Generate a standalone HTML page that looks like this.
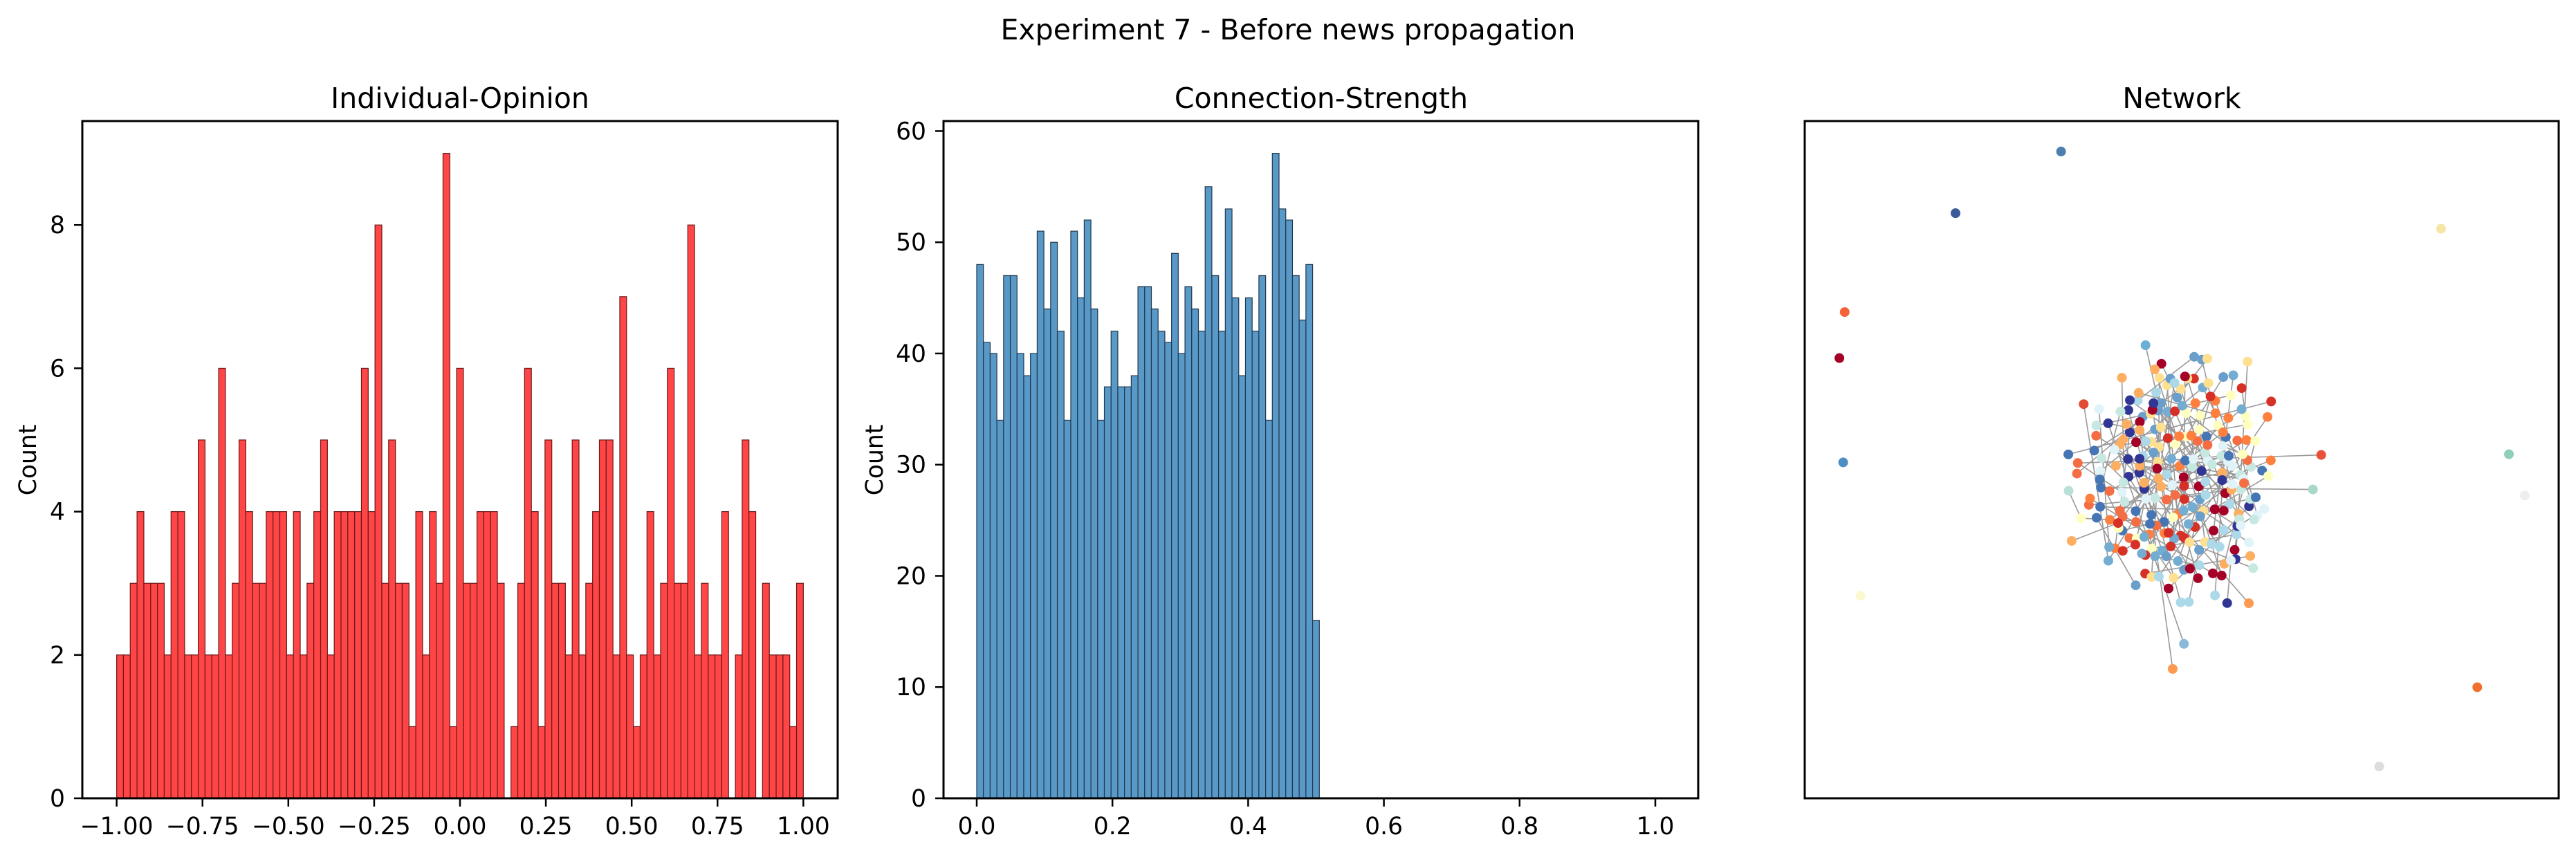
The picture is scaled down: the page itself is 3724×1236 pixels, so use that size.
<!DOCTYPE html>
<html><head><meta charset="utf-8">
<style>
html,body{margin:0;padding:0;background:#fff;}
svg{display:block;font-family:"DejaVu Sans","Liberation Sans",sans-serif;}
</style></head>
<body>
<svg id="fig" xmlns="http://www.w3.org/2000/svg" width="3724" height="1236" viewBox="0 0 3724 1236">
<rect width="3724" height="1236" fill="#fff"/>
<text x="1862" y="57" font-size="41" text-anchor="middle">Experiment 7 - Before news propagation</text>
<text x="665" y="156" font-size="41" text-anchor="middle">Individual-Opinion</text>
<text x="1910" y="156" font-size="41" text-anchor="middle">Connection-Strength</text>
<text x="3154" y="156" font-size="41" text-anchor="middle">Network</text>
<g id="g1"></g>
<g id="g2"></g>
<g id="g3"></g>
</svg>
<script>
// ---- data ----
const opinionCounts = [2,2,3,4,3,3,3,2,4,4,2,2,5,2,2,6,2,3,5,4,3,3,4,4,4,2,4,2,3,4,5,2,4,4,4,4,6,4,8,3,5,3,3,1,4,2,4,3,9,1,
6,3,3,4,4,4,3,0,1,3,6,4,1,5,3,3,2,5,2,3,4,5,5,2,7,2,1,2,4,2,3,6,3,3,8,2,3,2,2,4,0,2,5,4,0,3,2,2,2,1,3];
const opinionXTicks = [-1,-0.75,-0.5,-0.25,0,0.25,0.5,0.75,1];
const opinionXLabels = ["\u22121.00","\u22120.75","\u22120.50","\u22120.25","0.00","0.25","0.50","0.75","1.00"];
const opinionYTicks = [0,2,4,6,8];
const strengthCounts = [48,41,40,34,47,47,40,38,40,51,44,50,42,34,51,45,52,44,34,37,42,37,37,38,46,46,44,42,41,49,40,46,44,42,55,47,42,53,45,38,45,42,47,34,58,53,52,47,43,48,16];
const strengthBinWidth = 0.0099;
const strengthXTicks = [0,0.2,0.4,0.6,0.8,1.0];
const strengthXLabels = ["0.0","0.2","0.4","0.6","0.8","1.0"];
const strengthYTicks = [0,10,20,30,40,50,60];
// network outlier nodes in layout units (0..1 within axes)
const outlierX = [0.340,0.200,0.844,0.053,0.046,0.051,0.074,0.934,0.955,0.892,0.762,0.488,0.503,0.589,0.685,0.674,0.350,0.354,0.370,0.452];
const outlierY = [0.045,0.136,0.159,0.282,0.350,0.504,0.701,0.492,0.553,0.836,0.953,0.809,0.772,0.712,0.493,0.544,0.546,0.620,0.418,0.331];
const outlierColors = ["#4a7fb0","#3a5a9a","#f5e6a8","#f4623a","#a50026","#4f8ec3","#fbf8d0","#8fcfb8","#eeeeee","#f07030","#dddddd","#fd9a50","#8ab8d8","#fd9a50","#e8503a","#a8d8c8","#b8e0d8","#fdae61","#e34a33","#6baed6"];
const palette = ["#a50026","#d73027","#f46d43","#fdae61","#fee090","#ffffbf","#e0f3f8","#abd9e9","#74add1","#4575b4","#313695","#6a9fcb","#ff7f3f","#c6e8e0"];

const NS="http://www.w3.org/2000/svg";
function el(tag, attrs, parent){const e=document.createElementNS(NS,tag);for(const k in attrs)e.setAttribute(k,attrs[k]);parent.appendChild(e);return e;}

function axesFrame(g,L,T,R,B,name){
  const f=el('rect',{x:L,y:T,width:R-L,height:B-T,fill:'none',stroke:'#000','stroke-width':3},g);
  
  
}

// ---- histogram 1 ----
(function(){
  const g=document.getElementById('g1');
  const L=119,R=1211,T=175,B=1154;
  const x=v=>L+(v+1.1)/2.2*(R-L);
  const ymax=9*1.05;
  const y=v=>B-v/ymax*(B-T);
  const n=opinionCounts.length, w=2/n;
  opinionCounts.forEach((c,i)=>{
    if(c<=0) return;
    const r=el('rect',{x:x(-1+i*w),y:y(c),width:x(-1+(i+1)*w)-x(-1+i*w),height:B-y(c),fill:'#ff4545',stroke:'#6a1a1a','stroke-width':1.2},g);
    
    
  });
  opinionXTicks.forEach((t,i)=>{
    el('line',{x1:x(t),x2:x(t),y1:B,y2:B+12,stroke:'#000','stroke-width':2.5},g);
    const tx=el('text',{x:x(t),y:B+52,'font-size':34.5,'text-anchor':'middle'},g);
    tx.textContent=opinionXLabels[i];
    
    
  });
  opinionYTicks.forEach(t=>{
    el('line',{x1:L-12,x2:L,y1:y(t),y2:y(t),stroke:'#000','stroke-width':2.5},g);
    const tx=el('text',{x:L-25,y:y(t)+12,'font-size':34.5,'text-anchor':'end'},g);
    tx.textContent=String(t);
    
    
  });
  const yl=el('text',{x:0,y:0,'font-size':34.5,'text-anchor':'middle',transform:'translate(52,665) rotate(-90)'},g);
  yl.textContent='Count';
  
  
  axesFrame(g,L,T,R,B,'opinion-axes');
})();

// ---- histogram 2 ----
(function(){
  const g=document.getElementById('g2');
  const L=1364,R=2455,T=175,B=1154;
  const x0=1412, pu=981;
  const x=v=>x0+v*pu;
  const ymax=58*1.05;
  const y=v=>B-v/ymax*(B-T);
  strengthCounts.forEach((c,i)=>{
    const r=el('rect',{x:x(i*strengthBinWidth),y:y(c),width:strengthBinWidth*pu,height:B-y(c),fill:'#5899c8',stroke:'#22384c','stroke-width':1.2},g);
    
    
  });
  strengthXTicks.forEach((t,i)=>{
    el('line',{x1:x(t),x2:x(t),y1:B,y2:B+12,stroke:'#000','stroke-width':2.5},g);
    const tx=el('text',{x:x(t),y:B+52,'font-size':34.5,'text-anchor':'middle'},g);
    tx.textContent=strengthXLabels[i];
    
    
  });
  strengthYTicks.forEach(t=>{
    el('line',{x1:L-12,x2:L,y1:y(t),y2:y(t),stroke:'#000','stroke-width':2.5},g);
    const tx=el('text',{x:L-25,y:y(t)+12,'font-size':34.5,'text-anchor':'end'},g);
    tx.textContent=String(t);
    
    
  });
  const yl=el('text',{x:0,y:0,'font-size':34.5,'text-anchor':'middle',transform:'translate(1276,665) rotate(-90)'},g);
  yl.textContent='Count';
  
  
  axesFrame(g,L,T,R,B,'strength-axes');
})();

// ---- network ----
(function(){
  const g=document.getElementById('g3');
  const L=2609,R=3699,T=175,B=1154;
  const cx=3150, cy=690;
  const N=240, pts=[];
  const ga=Math.PI*(3-Math.sqrt(5));
  for(let i=0;i<N;i++){
    const r=Math.sqrt((i+0.5)/N);
    const a=i*ga;
    const wob=1+0.16*Math.sin(i*1.7)+0.1*Math.cos(i*0.9);
    pts.push([cx+Math.cos(a)*r*135*wob, cy+Math.sin(a)*r*170*wob]);
  }
  const eg=el('g',{stroke:'#808080','stroke-width':1.6,opacity:0.8},g);
  
  
  for(let i=0;i<N;i+=2){
    const j=(i*7+11)%N;
    if(j===i) continue;
    el('line',{x1:pts[i][0],y1:pts[i][1],x2:pts[j][0],y2:pts[j][1]},eg);
  }
  const ox=v=>L+v*(R-L), oy=v=>T+v*(B-T);
  for(let k=11;k<outlierX.length;k++){
    const p=pts[(k*13)%N];
    el('line',{x1:ox(outlierX[k]),y1:oy(outlierY[k]),x2:p[0],y2:p[1]},eg);
  }
  pts.forEach((p,i)=>{
    const c=el('circle',{cx:p[0],cy:p[1],r:7,fill:palette[(i*5+i%3)%palette.length]},g);
    
    
  });
  outlierX.forEach((v,k)=>{
    const c=el('circle',{cx:ox(v),cy:oy(outlierY[k]),r:7,fill:outlierColors[k]},g);
    
    
  });
  axesFrame(g,L,T,R,B,'network-axes');
})();
</script>
</body></html>
